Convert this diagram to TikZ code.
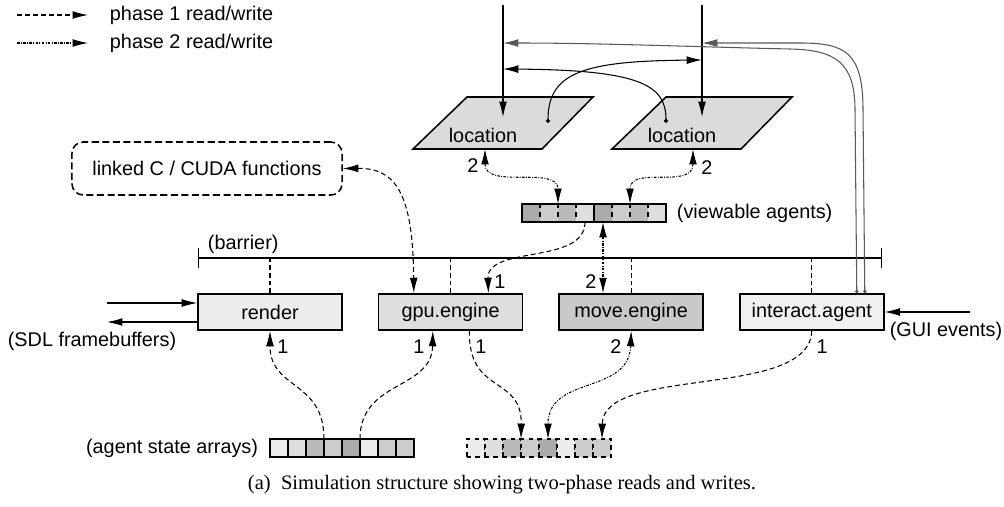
\documentclass[tikz,border=0pt]{standalone}
\usepackage{fontspec}
\setmainfont{Liberation Serif}
\setsansfont{Liberation Sans}
\usetikzlibrary{positioning, arrows.meta, calc}
\tikzset{
>={Latex[length=11pt, width=5.6pt]}, % long thin heads
x=0.025cm, y=-0.025cm, % one unit is one pixel of the sketch, y runs down
every node/.style={font=\sffamily\fontsize{14.1}{16}\selectfont},
conn/.style={line width=0.75pt}, % plain connector
phaseone/.style={conn, dash pattern=on 3.5pt off 2.2pt}, % phase 1 read/write
phasetwo/.style={conn, dash pattern=on 1.8pt off 1pt on 0.6pt off 1pt}, % phase 2 read/write
sync/.style={conn, dash pattern=on 3.5pt off 2pt}, % drop to the barrier
feed/.style={conn, draw=black!65, {Circle[length=2.5pt]}-{Latex[length=11pt, width=5.6pt]}},
engine/.style={draw, line width=1.1pt, minimum width=3.6cm, minimum height=0.9cm, inner sep=0pt},
cell/.style={minimum width=0.45cm, minimum height=0.45cm, inner sep=0pt, outer sep=0pt},
place/.style={draw, line width=1.1pt, fill=black!14},
}
\begin{document}
\begin{tikzpicture}
\useasboundingbox (0,0) rectangle (1004,506);

% legend
\coordinate (legA) at (17,15);
\coordinate (legB) at (88,15);
\coordinate (legC) at (17,43);
\coordinate (legD) at (88,43);
\draw[phaseone, ->] (legA) -- (legB);
\draw[phasetwo, ->] (legC) -- (legD);
\node[anchor=west] (leg1) at (105,15) {phase 1 read/write};
\node[anchor=west] (leg2) at (105,43) {phase 2 read/write};

% the two locations
\filldraw[place] (413,149) -- (542,149) -- (593,97) -- (467,97) -- cycle;
\filldraw[place] (612,149) -- (741,149) -- (792,97) -- (666,97) -- cycle;
\node (locA) at (483,135) {location};
\node (locB) at (682,135) {location};

\coordinate (inA) at (503,5);
\coordinate (inB) at (702,5);
\coordinate (hitA) at (503,117);
\coordinate (hitB) at (702,117);
\draw[conn, ->] (inA) -- (hitA);
\draw[conn, ->] (inB) -- (hitB);

\coordinate (gA) at (503,43);
\coordinate (gB) at (702,43);
\coordinate (bA) at (503,69);
\coordinate (bB) at (702,60);
\coordinate (dotA) at (548,123);
\coordinate (dotB) at (666,123);
\draw[conn, {Circle[length=3pt]}->] (dotA) .. controls (548,72) and (585,61) .. (bB);
\draw[conn, {Circle[length=3pt]}->] (dotB) .. controls (666,85) and (640,70) .. (bA);

% viewable agents
\foreach \s [count=\i] in {33,20,27,13,33,20,27,13}
  \node[cell, fill=black!\s] (v\i) at (513+18*\i,213) {};
\draw[line width=1pt] (v1.north west) rectangle (v8.south east);
\draw[line width=1pt] (v4.north east) -- (v4.south east);
\foreach \i in {1,2,3,5,6,7}
  \draw[conn, dashed] (v\i.north east) -- (v\i.south east);
\node[anchor=west] (viewlbl) at (672,213) {(viewable agents)};

\coordinate (locAbot) at (485,149);
\coordinate (locBbot) at (693,149);
\draw[phasetwo, <->] (locAbot) .. controls (485,190) and (558,165) .. (v3.north west);
\draw[phasetwo, <->] (locBbot) .. controls (693,190) and (630,165) .. (v6.north east);
\node (n2a) at (473,166) {2};
\node (n2b) at (707,168) {2};

% linked functions
\node[draw, line width=1.1pt, dash pattern=on 5pt off 2.5pt, rounded corners=8pt,
  minimum width=6.75cm, minimum height=1.325cm] (funcs) at (207,168.5) {linked C / CUDA functions};

% engines and barrier
\node[engine, fill=black!7] (render) at (270,312) {render};
\node[engine, fill=black!13, right=0.875cm of render] (gpu) {gpu.engine};
\node[engine, fill=black!21, right=0.875cm of gpu] (move) {move.engine};
\node[engine, fill=black!6, right=0.875cm of move] (interact) {interact.agent};

\coordinate (barL) at (198,258);
\coordinate (barR) at (882,258);
\draw[conn, {Bar[width=14pt]}-{Bar[width=14pt]}] (barL) -- (barR);
\node[anchor=west] (barlbl) at (203,244) {(barrier)};
\foreach \n in {render,gpu,move,interact}
  \draw[sync] (\n.north) -- (\n.north |- barL);

\coordinate (gpuTopL) at ($(gpu.north west)+(36,0)$);
\coordinate (gpuTopR) at ($(gpu.north east)+(-35,0)$);
\draw[phaseone, <->] (funcs.east) .. controls (395,168) and (413,192) .. (gpuTopL);
\draw[phaseone, ->] (v4.south) .. controls (585,265) and (487,245) .. (gpuTopR);
\draw[phasetwo, <->] (v5.south) -- (v5.south |- move.north);
\node (n1g) at (500,282) {1};
\node (n2m) at (591,282) {2};

% gui feedback into the locations
\draw[feed] ($(interact.north)+(53,0)$) -- (863,110) .. controls (863,52) and (845,43) .. (800,43) -- (gB);
\draw[feed] ($(interact.north)+(45,0)$) -- (855,110) .. controls (855,62) and (835,50) .. (790,49) .. controls (700,47) and (600,43) .. (gA);

% outside world
\coordinate (sdlIn) at (107,303);
\coordinate (sdlOut) at (107,322);
\draw[conn, ->] (sdlIn) -- (sdlIn -| render.west);
\draw[conn, ->] (sdlOut -| render.west) -- (sdlOut);
\node (sdllbl) at (92,341) {(SDL framebuffers)};
\coordinate (gui) at (970,312);
\draw[conn, ->] (gui) -- (interact.east);
\node (guilbl) at (946,331) {(GUI events)};

% agent state arrays
\foreach \s [count=\i] in {7,13,27,20,33,7,20,20}
  \node[cell, draw, line width=0.8pt, fill=black!\s] (a\i) at (261+18*\i,448) {};
\foreach \s [count=\i] in {7,13,27,20,33,7,20,20}
  \node[cell, draw, conn, dashed, fill=black!\s] (b\i) at (458+18*\i,448) {};
\node[anchor=east] (statelbl) at (263,448) {(agent state arrays)};

\coordinate (gpuBotL) at ($(gpu.south west)+(55,0)$);
\coordinate (gpuBotR) at ($(gpu.south east)+(-54,0)$);
\draw[phaseone, ->] (a4.north west) .. controls (324,380) and (270,390) .. (render.south);
\draw[phaseone, ->] (a6.north west) .. controls (360,380) and (432,390) .. (gpuBotL);
\draw[phaseone, ->] (gpuBotR) .. controls (468,395) and (522,375) .. (b4.north west);
\draw[phasetwo, <->] (move.south) .. controls (629,395) and (548,375) .. (b5.north);
\draw[phaseone, ->] (interact.south) .. controls (810,400) and (603,365) .. (b8.north);
\node (n1r) at (283,347) {1};
\node (n1gl) at (419,347) {1};
\node (n1gr) at (481,347) {1};
\node (n2mv) at (616,347) {2};
\node (n1i) at (822,347) {1};

\node[font=\rmfamily\fontsize{14.6}{17}\selectfont] (caption) at (502,485)
  {(a)\ \ Simulation structure showing two-phase reads and writes.};
\end{tikzpicture}
\end{document}
